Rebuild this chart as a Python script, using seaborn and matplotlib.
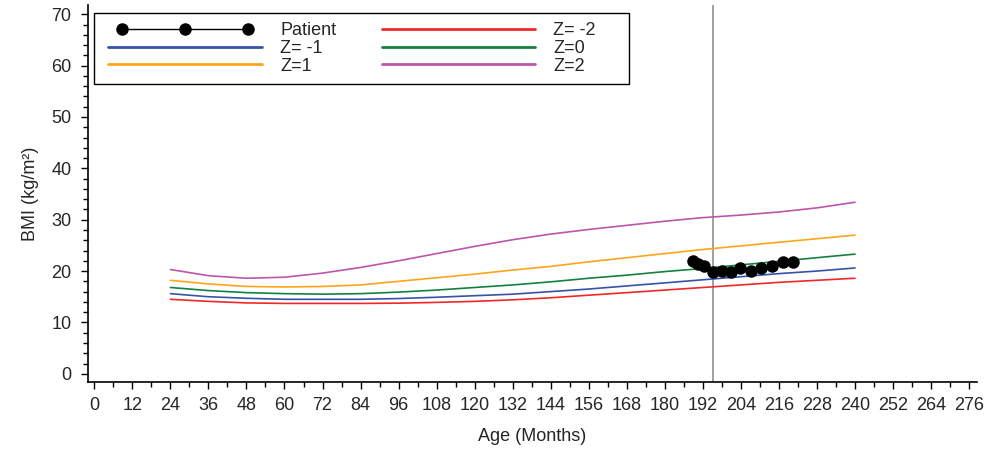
import numpy as np
import pandas as pd
import matplotlib
matplotlib.use("Agg")
import matplotlib.pyplot as plt
from matplotlib.ticker import MultipleLocator
from matplotlib.lines import Line2D
from matplotlib.patches import Rectangle
from matplotlib.legend_handler import HandlerLine2D
import seaborn as sns

# ---- data ----
ref_ages = [24, 36, 48, 60, 72, 84, 96, 108, 120, 132, 144, 156, 168, 180, 192, 204, 216, 228, 240]
z_m2 = [14.5, 14.1, 13.8, 13.7, 13.7, 13.7, 13.75, 13.9, 14.1, 14.4, 14.8, 15.3, 15.8, 16.3, 16.8, 17.3, 17.8, 18.2, 18.6]
z_m1 = [15.6, 15.0, 14.7, 14.5, 14.5, 14.5, 14.65, 14.9, 15.2, 15.5, 16.0, 16.5, 17.1, 17.7, 18.3, 18.9, 19.5, 20.0, 20.6]
z_0 = [16.8, 16.2, 15.8, 15.6, 15.5, 15.6, 15.9, 16.3, 16.8, 17.3, 17.9, 18.6, 19.2, 19.9, 20.5, 21.2, 21.9, 22.6, 23.3]
z_p1 = [18.2, 17.5, 17.0, 16.9, 17.0, 17.3, 18.0, 18.7, 19.4, 20.2, 20.9, 21.8, 22.6, 23.4, 24.2, 24.9, 25.6, 26.3, 27.0]
z_p2 = [20.3, 19.1, 18.6, 18.8, 19.6, 20.7, 22.0, 23.4, 24.8, 26.1, 27.2, 28.1, 28.9, 29.7, 30.4, 30.9, 31.5, 32.3, 33.4]

patient_age = [188.9, 190.5, 192.3, 195.1, 198.0, 201.0, 203.7, 207.2, 210.5, 213.9, 217.4, 220.5]
patient_bmi = [22.0, 21.3, 20.9, 19.8, 20.1, 19.9, 20.6, 20.1, 20.5, 21.0, 21.7, 21.7]

current_age = 195.1

x_ticks = list(range(0, 277, 12))
y_ticks = list(range(0, 71, 10))

series_labels = ["Z= -2", "Z= -1", "Z=0", "Z=1", "Z=2"]
series_values = [z_m2, z_m1, z_0, z_p1, z_p2]
series_colors = ["#F02828", "#3553A8", "#158040", "#FFA51C", "#BE55AA"]

# ---- plot ----
sns.set_style("ticks")
plt.rcParams["font.family"] = ["Liberation Sans", "DejaVu Sans"]

fig = plt.figure(figsize=(10.06, 4.53), dpi=100)
ax = fig.add_axes([88 / 1006, 1 - 382 / 453, (977 - 88) / 1006, (382 - 5) / 453])

handles = {}
for lab, vals, col in zip(series_labels, series_values, series_colors):
    sns.lineplot(x=ref_ages, y=vals, color=col, linewidth=1.2, ax=ax, legend=False)
    handles[lab] = Line2D([], [], color=col, linewidth=2)

ax.axvline(current_age, color="#999999", linewidth=1.3, zorder=1)

sns.lineplot(x=patient_age, y=patient_bmi, color="black", marker="o", markersize=9,
             markeredgewidth=0, linewidth=0, ax=ax, legend=False, zorder=5)
handles["Patient"] = Line2D([], [], color="black", marker="o", markersize=8, linewidth=1)

ax.set_xlim(-2, 278.5)
ax.set_ylim(-1.6, 71.8)
ax.set_xticks(x_ticks)
ax.set_yticks(y_ticks)
ax.xaxis.set_minor_locator(MultipleLocator(6))
ax.yaxis.set_minor_locator(MultipleLocator(2))
ax.tick_params(axis="both", which="major", length=5, width=1, labelsize=13, color="black")
ax.tick_params(axis="x", which="major", pad=6)
ax.tick_params(axis="y", which="major", pad=7)
ax.tick_params(axis="both", which="minor", length=3.5, width=1, color="black")
for s in ["top", "right"]:
    ax.spines[s].set_visible(False)
for s in ["left", "bottom"]:
    ax.spines[s].set_linewidth(1.2)
    ax.spines[s].set_color("black")

ax.set_xlabel("Age (Months)", fontsize=13, labelpad=10)
ax.set_ylabel("BMI (kg/m²)", fontsize=13, labelpad=9)

order = ["Patient", "Z= -1", "Z=1", "Z= -2", "Z=0", "Z=2"]
leg = ax.legend([handles[k] for k in order], order, loc="upper left",
                bbox_to_anchor=(0.0068, 0.979), ncol=2, fontsize=13, numpoints=3,
                frameon=False,
                handler_map={handles["Patient"]: HandlerLine2D(marker_pad=1.05)},
                handlelength=9.1, handletextpad=0.7, columnspacing=2.22,
                labelspacing=0.05, borderpad=0.5, borderaxespad=0)

# legend frame box (fixed width as in the reference)
fx0 = (94 - 88) / 889
fx1 = (629 - 88) / 889
fy1 = 1 - (13 - 5) / 377
fy0 = 1 - (84 - 5) / 377
ax.add_patch(Rectangle((fx0, fy0), fx1 - fx0, fy1 - fy0, transform=ax.transAxes,
                       facecolor="white", edgecolor="black", linewidth=1.0, zorder=4))
leg.set_zorder(6)

fig.savefig("out.png", dpi=100)
